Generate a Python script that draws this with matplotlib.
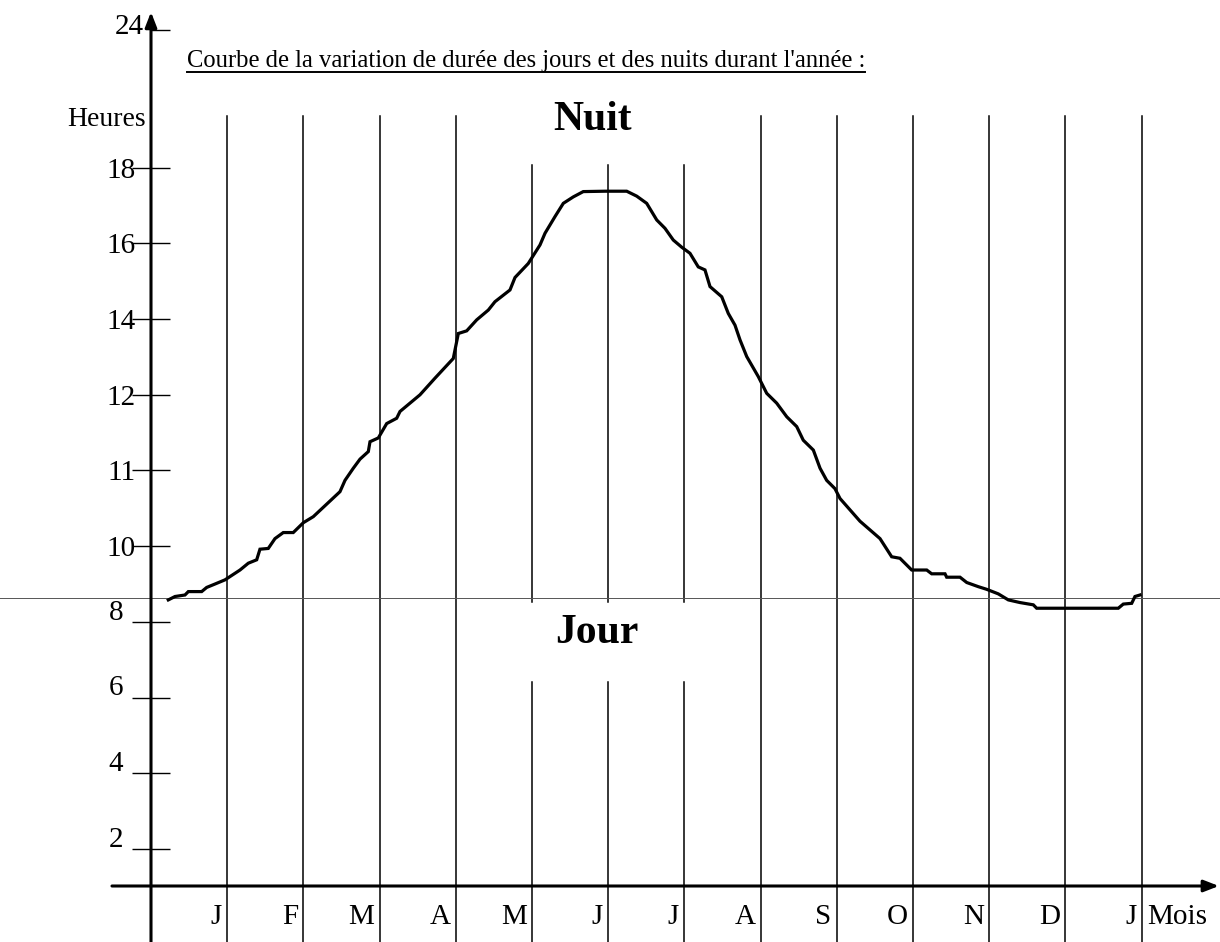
import numpy as np
import matplotlib.pyplot as plt
import matplotlib.transforms as mtransforms

plt.rcParams['font.family'] = ['Liberation Serif', 'DejaVu Serif']

# graduations de l'axe vertical : heures et rang de chaque trait sur l'axe
heures = [0, 2, 4, 6, 8, 10, 11, 12, 14, 16, 18, 24]
rangs = [0.51, 1, 2, 3, 4, 5, 6, 7, 8, 9, 10, 11.82]
graduations = [2, 4, 6, 8, 10, 11, 12, 14, 16, 18]

mois = ['J', 'F', 'M', 'A', 'M', 'J', 'J', 'A', 'S', 'O', 'N', 'D', 'J']

courbe_mois = [0.227, 0.315, 0.446, 0.490, 0.665, 0.731, 0.840, 0.971, 1.168, 1.277,
               1.387, 1.430, 1.539, 1.627, 1.736, 1.867, 1.999, 2.130, 2.480, 2.546,
               2.655, 2.743, 2.852, 2.874, 2.983, 3.093, 3.224, 3.268, 3.530, 3.727,
               3.967, 4.033, 4.143, 4.274, 4.427, 4.514, 4.711, 4.777, 4.951, 5.105,
               5.171, 5.302, 5.411, 5.542, 5.673, 5.958, 6.243, 6.374, 6.505, 6.637,
               6.745, 6.854, 6.965, 7.073, 7.182, 7.270, 7.336, 7.490, 7.576, 7.664,
               7.730, 7.818, 7.970, 8.080, 8.211, 8.343, 8.474, 8.560, 8.692, 8.780,
               8.867, 8.976, 9.042, 9.304, 9.567, 9.720, 9.829, 9.983, 10.180, 10.245,
               10.420, 10.442, 10.617, 10.705, 10.857, 10.967, 11.119, 11.251, 11.404, 11.579,
               11.623, 12.694, 12.760, 12.870, 12.913, 12.979]
courbe_heures = [8.58, 8.67, 8.71, 8.80, 8.80, 8.91, 9.00, 9.11, 9.37, 9.55,
                 9.64, 9.92, 9.94, 10.10, 10.18, 10.18, 10.31, 10.39, 10.72, 10.87,
                 11.03, 11.15, 11.25, 11.38, 11.43, 11.62, 11.69, 11.78, 12.00, 12.44,
                 12.96, 13.62, 13.69, 13.98, 14.24, 14.46, 14.77, 15.10, 15.47, 15.96,
                 16.27, 16.71, 17.06, 17.23, 17.37, 17.38, 17.38, 17.25, 17.06, 16.62,
                 16.40, 16.09, 15.90, 15.74, 15.38, 15.30, 14.86, 14.59, 14.15, 13.84,
                 13.45, 13.01, 12.48, 12.04, 11.89, 11.71, 11.58, 11.40, 11.27, 11.03,
                 10.87, 10.76, 10.63, 10.33, 10.10, 9.72, 9.68, 9.37, 9.37, 9.27,
                 9.27, 9.18, 9.18, 9.04, 8.93, 8.86, 8.74, 8.58, 8.51, 8.45,
                 8.36, 8.36, 8.47, 8.49, 8.67, 8.71]

ligne_repere = 8.62


def _lineaire(v, xs, ys):
    v = np.asarray(v, dtype=float)
    out = np.interp(v, xs, ys)
    pente_bas = (ys[1] - ys[0]) / (xs[1] - xs[0])
    pente_haut = (ys[-1] - ys[-2]) / (xs[-1] - xs[-2])
    out = np.where(v < xs[0], ys[0] + (v - xs[0]) * pente_bas, out)
    out = np.where(v > xs[-1], ys[-1] + (v - xs[-1]) * pente_haut, out)
    return out


def vers_rang(h):
    return _lineaire(h, heures, rangs)


def vers_heure(r):
    return _lineaire(r, rangs, heures)


W, H = 1220, 942
fig = plt.figure(figsize=(W / 100, H / 100), dpi=100)
# axe des mois : 0 -> x=151 px, 13 -> x=1141.6 px ; axe des heures : 0 -> y=886 px, 24 -> y=30 px
ax = fig.add_axes([151 / W, 1 - 886 / H, 990.6 / W, 856 / H])
ax.set_yscale('function', functions=(vers_rang, vers_heure))
ax.set_xlim(0, 13)
ax.set_ylim(0, 24)
for s in ax.spines.values():
    s.set_visible(False)
ax.set_xticks([])
ax.set_yticks(graduations)
ax.set_yticks([24], minor=True)
ax.tick_params(axis='y', which='major', direction='inout', length=28, width=1.0,
               labelleft=False, left=True)
ax.tick_params(axis='y', which='minor', direction='in', length=14, width=1.0,
               labelleft=False, left=True)
for t in ax.yaxis.get_major_ticks() + ax.yaxis.get_minor_ticks():
    t.tick1line.set_clip_on(False)

xd_ya = mtransforms.blended_transform_factory(ax.transData, ax.transAxes)
xa_yd = mtransforms.blended_transform_factory(ax.transAxes, ax.transData)

# traits verticaux des mois (coupes autour de "Nuit" et "Jour" pour mai, juin, juillet)
for k in range(1, 14):
    if k in (5, 6, 7):
        ax.plot([k, k], [-0.066, 0.2383], color='black', lw=1.1, transform=xd_ya, clip_on=False)
        ax.plot([k, k], [0.3318, 0.8423], color='black', lw=1.1, transform=xd_ya, clip_on=False)
    else:
        ax.plot([k, k], [-0.066, 0.8995], color='black', lw=1.1, transform=xd_ya, clip_on=False)

ax.axhline(ligne_repere, xmin=-0.16, xmax=1.09, color='#555555', lw=0.7, clip_on=False)

# axes avec fleches
ax.annotate('', xy=(0, 1.021), xytext=(0, -0.07), xycoords='axes fraction',
            arrowprops=dict(arrowstyle='-|>,head_length=0.9,head_width=0.35', color='black',
                            lw=2.2, shrinkA=0, shrinkB=0), annotation_clip=False)
ax.annotate('', xy=(1.078, 0), xytext=(-0.0394, 0), xycoords='axes fraction',
            arrowprops=dict(arrowstyle='-|>,head_length=0.9,head_width=0.35', color='black',
                            lw=2.2, shrinkA=0, shrinkB=0), annotation_clip=False)

ax.plot(courbe_mois, courbe_heures, color='black', lw=2.3, solid_joinstyle='miter', clip_on=False)

# libelles des graduations
for g in graduations:
    if g <= 8:
        ax.annotate(str(g), xy=(0, g), xycoords=xa_yd, xytext=(-20, 1.5),
                    textcoords='offset points', ha='right', va='baseline', fontsize=21,
                    annotation_clip=False)
    else:
        ax.annotate(str(g), xy=(0, g), xycoords=xa_yd, xytext=(-11, 0),
                    textcoords='offset points', ha='right', va='center_baseline', fontsize=21,
                    annotation_clip=False)
ax.annotate('24', xy=(0, 24), xycoords=xa_yd, xytext=(-5, 4),
            textcoords='offset points', ha='right', va='center_baseline', fontsize=21,
            annotation_clip=False)

for k, m in enumerate(mois, start=1):
    ax.text(k - 0.07, -0.0444, m, transform=xd_ya, ha='right', va='baseline', fontsize=21)
ax.text(13.07, -0.0444, 'Mois', transform=xd_ya, ha='left', va='baseline', fontsize=21)

fig.text(67 / W, 1 - 120 / H, 'Heures', ha='left', va='center', fontsize=20)
fig.text(593 / W, 1 - 120 / H, 'Nuit', ha='center', va='center', fontsize=30, fontweight='bold')
fig.text(597 / W, 1 - 633 / H, 'Jour', ha='center', va='center', fontsize=30, fontweight='bold')

titre = fig.text(187 / W, 1 - 67 / H,
                 "Courbe de la variation de durée des jours et des nuits durant l'année :",
                 ha='left', va='baseline', fontsize=17.7)
fig.canvas.draw()
bb = titre.get_window_extent(fig.canvas.get_renderer())
y_sous = bb.y0 + (bb.y1 - bb.y0) * 0.02
fig.add_artist(plt.Line2D([bb.x0 / W, bb.x1 / W], [y_sous / H, y_sous / H],
                          color='black', lw=1.4, transform=fig.transFigure))

fig.savefig('out.png', dpi=100)
